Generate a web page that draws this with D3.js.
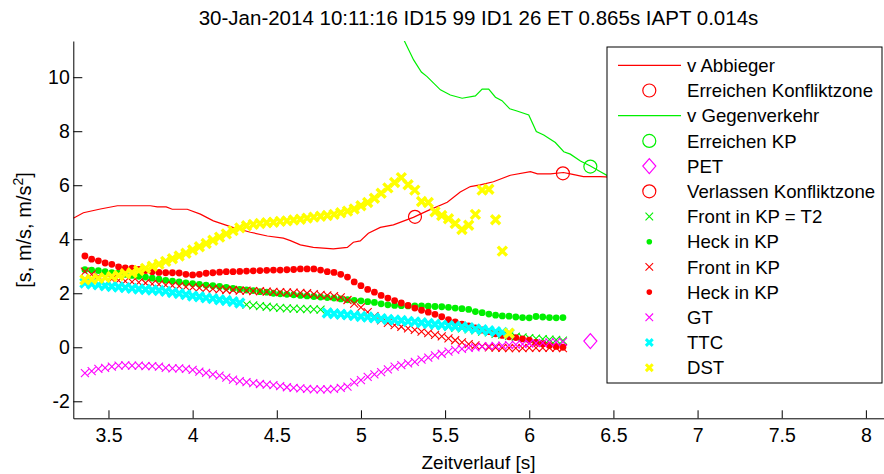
<!DOCTYPE html>
<html><head><meta charset="utf-8">
<script src="https://cdn.jsdelivr.net/npm/d3@7"></script>
<style>
body{margin:0;background:#fff;}
svg{display:block;}
text{font-family:"Liberation Sans",Arial,Helvetica,sans-serif;fill:#000;}
</style>
</head><body>
<svg id="c" width="884" height="474"></svg>
<script>
// ---------- data ----------
const title = "30-Jan-2014 10:11:16 ID15 99 ID1 26 ET 0.865s IAPT 0.014s";
const xLabel = "Zeitverlauf [s]";
const xTicks = [3.5, 4, 4.5, 5, 5.5, 6, 6.5, 7, 7.5, 8];
const yTicks = [-2, 0, 2, 4, 6, 8, 10];

// v Abbieger (red line)
const abbT = [3.291,3.351,3.452,3.553,3.749,3.790,3.843,3.879,3.968,4.046,4.123,4.242,4.343,4.444,4.539,4.581,4.640,4.717,4.836,4.919,4.955,4.996,5.044,5.115,5.193,5.311,5.394,5.513,5.590,5.650,5.709,5.787,5.888,6.007,6.049,6.126,6.203,6.244,6.322,6.423,6.480,6.600];
const abbV = [4.78,4.98,5.12,5.24,5.24,5.20,5.20,5.11,5.11,4.93,4.68,4.43,4.26,4.12,4.04,3.95,3.79,3.70,3.64,3.70,3.89,3.94,4.22,4.44,4.53,4.81,5.05,5.37,5.75,5.95,6.01,6.13,6.37,6.50,6.42,6.42,6.47,6.42,6.32,6.32,6.30,6.28];

// v Gegenverkehr (green line)
const gegT = [5.230,5.313,5.359,5.393,5.472,5.531,5.601,5.680,5.720,5.759,5.799,5.838,5.884,5.927,5.997,6.042,6.086,6.155,6.205,6.244,6.304,6.363,6.423,6.480,6.600];
const gegV = [11.70,10.64,10.19,10.02,9.53,9.34,9.22,9.31,9.56,9.56,9.26,9.13,8.83,8.75,8.60,7.99,7.86,7.58,7.24,7.15,6.90,6.71,6.50,6.30,6.00];

// single events
const erreichenKZ = [5.321, 4.83];
const erreichenKP = [6.363, 6.69];
const pet = [6.363, 0.23];
const verlassenKZ = [6.200, 6.44];

// sample times of marker series
const t = [3.36,3.40,3.44,3.48,3.52,3.56,3.60,3.64,3.68,3.72,3.76,3.80,3.84,3.88,3.92,3.96,4.00,4.04,4.08,4.12,4.16,4.20,4.24,4.28,4.32,4.36,4.40,4.44,4.48,4.52,4.56,4.60,4.64,4.68,4.72,4.76,4.80,4.84,4.88,4.92,4.96,5.00,5.04,5.08,5.12,5.16,5.20,5.24,5.28,5.32,5.36,5.40,5.44,5.48,5.52,5.56,5.60,5.64,5.68,5.72,5.76,5.80,5.84,5.88,5.92,5.96,6.00,6.04,6.08,6.12,6.16,6.20];

const frontT2 = [2.38,2.34,2.31,2.28,2.25,2.23,2.21,2.18,2.16,2.14,2.12,2.10,2.07,2.03,1.99,1.95,1.90,1.87,1.83,1.80,1.76,1.73,1.69,1.64,
  1.58,1.55,1.52,1.50,1.48,1.46,1.44,1.43,1.42,1.41,1.40,1.39,
  1.31,1.27,1.24,1.20,1.18,1.15,1.11,1.09,1.05,1.03,0.99,0.97,0.93,0.91,0.88,0.85,0.81,0.79,0.76,0.72,0.70,0.66,0.63,0.58,0.55,0.50,0.47,0.42,
  0.39,0.37,0.34,0.32,0.30,0.28,0.27,0.25];
const heckGreen = [2.87,2.86,2.84,2.80,2.76,2.74,2.70,2.66,2.63,2.60,2.56,2.52,2.48,2.45,2.42,2.38,2.36,2.33,2.30,2.28,2.25,2.22,2.18,2.14,2.12,2.10,2.06,2.04,2.00,1.98,1.96,1.94,1.92,1.90,1.88,1.86,1.84,1.82,1.79,1.76,1.74,1.72,1.69,1.66,1.61,1.57,1.55,1.54,1.53,1.53,1.53,1.52,1.51,1.50,1.48,1.45,1.43,1.40,1.32,1.28,1.23,1.19,1.16,1.15,1.12,1.10,1.09,1.14,1.12,1.10,1.09,1.10];
const frontRed = [2.80,2.70,2.62,2.56,2.52,2.48,2.45,2.42,2.40,2.38,2.35,2.33,2.30,2.28,2.26,2.24,2.22,2.20,2.18,2.16,2.14,2.12,2.12,2.10,2.10,2.08,2.08,2.06,2.05,2.04,2.03,2.02,2.01,2.00,1.97,1.94,1.92,1.89,1.85,1.75,1.62,1.48,1.30,1.15,1.00,0.90,0.82,0.76,0.70,0.64,0.58,0.52,0.46,0.40,0.33,0.26,0.18,0.12,0.07,0.03,0.00,-0.01,-0.02,-0.03,-0.03,-0.03,-0.02,-0.02,-0.02,-0.02,-0.02,-0.03];
const heckRed = [3.38,3.26,3.20,3.12,3.07,2.98,2.94,2.93,2.88,2.84,2.80,2.77,2.76,2.76,2.75,2.70,2.68,2.70,2.74,2.76,2.78,2.80,2.80,2.81,2.82,2.83,2.84,2.85,2.86,2.86,2.87,2.88,2.90,2.90,2.90,2.86,2.80,2.77,2.70,2.60,2.42,2.28,2.14,2.04,1.92,1.82,1.73,1.64,1.55,1.45,1.37,1.30,1.22,1.13,1.02,0.94,0.86,0.79,0.72,0.64,0.58,0.50,0.44,0.39,0.36,0.31,0.26,0.18,0.13,0.07,0.03,0.00];
const gt = [-0.96,-0.88,-0.80,-0.76,-0.72,-0.68,-0.67,-0.68,-0.68,-0.70,-0.70,-0.72,-0.76,-0.78,-0.78,-0.80,-0.84,-0.90,-0.95,-1.00,-1.05,-1.12,-1.20,-1.25,-1.29,-1.33,-1.36,-1.38,-1.40,-1.44,-1.48,-1.50,-1.52,-1.54,-1.56,-1.56,-1.56,-1.54,-1.50,-1.46,-1.30,-1.22,-1.10,-1.00,-0.92,-0.82,-0.72,-0.66,-0.60,-0.54,-0.46,-0.38,-0.30,-0.24,-0.16,-0.10,-0.06,-0.02,0.00,0.02,0.04,0.05,0.06,0.08,0.10,0.12,0.14,0.15,0.16,0.18,0.19,0.20];
const ttc = [2.38,2.34,2.31,2.28,2.25,2.23,2.21,2.18,2.16,2.14,2.12,2.10,2.07,2.03,1.99,1.95,1.90,1.87,1.83,1.80,1.76,1.73,1.69,1.64,
  null,null,null,null,null,null,null,null,null,null,null,null,
  1.27,1.24,1.22,1.20,1.17,1.14,1.12,1.09,1.06,1.03,1.01,0.99,0.96,0.94,0.91,0.88,0.85,0.82,0.80,0.78,0.76,0.72,0.68,0.65,0.61,0.58,0.55,0.51,
  null,null,null,null,null,null,null,null];
const dst = [2.50,2.52,2.55,2.58,2.62,2.66,2.72,2.76,2.84,2.92,3.00,3.08,3.18,3.28,3.38,3.48,3.60,3.72,3.84,3.96,4.08,4.20,4.32,4.42,4.50,4.55,4.58,4.61,4.63,4.66,4.68,4.71,4.74,4.78,4.82,4.85,4.88,4.92,4.98,5.04,5.12,5.24,5.36,5.52,5.70,5.90,6.10,6.28,6.02,5.82,5.40,5.36,5.02,4.88,4.76,4.58,4.36,4.52,4.92,5.82,5.85,4.72,3.56,0.52,
  null,null,null,null,null,null,null,null];

const legendLabels = ["v Abbieger","Erreichen Konfliktzone","v Gegenverkehr","Erreichen KP","PET","Verlassen Konfliktzone","Front in KP = T2","Heck in KP","Front in KP","Heck in KP","GT","TTC","DST"];

// ---------- styles ----------
const RED = "#ff0000", GREEN = "#00f000", MAG = "#ff00ff", CYAN = "#00ffff", YEL = "#ffff00";

// ---------- drawing ----------
const svg = d3.select("#c");
const x = d3.scaleLinear().domain([3.291, 8.11]).range([73.3, 884.4]);
const y = d3.scaleLinear().domain([-2.63, 11.34]).range([418.3, 41]);

svg.append("defs").append("clipPath").attr("id", "clip")
  .append("rect").attr("x", 73.3).attr("y", 41).attr("width", 812).attr("height", 378);

const plot = svg.append("g").attr("clip-path", "url(#clip)");

const line = d3.line().x(d => x(d[0])).y(d => y(d[1]));
const zip = (a, b) => a.map((v, i) => [v, b[i]]).filter(d => d[1] !== null && d[1] !== undefined);

const xPath = h => `M${-h},${-h}L${h},${h}M${-h},${h}L${h},${-h}`;
const diamondPath = (w, hh) => `M0,${-hh}L${w},0L0,${hh}L${-w},0Z`;

function drawX(g, data, color, h, sw) {
  g.append("g").selectAll("path").data(data).join("path")
    .attr("transform", d => `translate(${x(d[0])},${y(d[1])})`)
    .attr("d", xPath(h)).attr("fill", "none").attr("stroke", color).attr("stroke-width", sw);
}
function drawDots(g, data, color, r) {
  g.append("g").selectAll("circle").data(data).join("circle")
    .attr("cx", d => x(d[0])).attr("cy", d => y(d[1])).attr("r", r).attr("fill", color);
}
function drawCircle(g, p, color) {
  g.append("circle").attr("cx", x(p[0])).attr("cy", y(p[1])).attr("r", 6.5)
    .attr("fill", "none").attr("stroke", color).attr("stroke-width", 1.2);
}

plot.append("path").datum(zip(abbT, abbV)).attr("d", line).attr("fill", "none").attr("stroke", RED).attr("stroke-width", 1.2);
drawCircle(plot, erreichenKZ, RED);
plot.append("path").datum(zip(gegT, gegV)).attr("d", line).attr("fill", "none").attr("stroke", GREEN).attr("stroke-width", 1.2);
drawCircle(plot, erreichenKP, GREEN);
plot.append("path").attr("transform", `translate(${x(pet[0])},${y(pet[1])})`)
  .attr("d", diamondPath(6.5, 7.5)).attr("fill", "none").attr("stroke", MAG).attr("stroke-width", 1.2);
drawCircle(plot, verlassenKZ, RED);
drawX(plot, zip(t, frontT2), GREEN, 4, 1.1);
drawDots(plot, zip(t, heckGreen), GREEN, 3.4);
drawX(plot, zip(t, frontRed), RED, 4, 1.1);
drawDots(plot, zip(t, heckRed), RED, 3.4);
drawX(plot, zip(t, gt), MAG, 4, 1.1);
drawX(plot, zip(t, ttc), CYAN, 4.5, 3.4);
drawX(plot, zip(t, dst), YEL, 4.5, 3.4);

// axes
const xAxis = d3.axisBottom(x).tickValues(xTicks).tickFormat(d => String(d)).tickSizeInner(-8).tickSizeOuter(0).tickPadding(10);
const gx = svg.append("g").attr("transform", "translate(0,418.3)").call(xAxis);
const yAxis = d3.axisLeft(y).tickValues(yTicks).tickFormat(d => String(d)).tickSizeInner(-9).tickSizeOuter(0).tickPadding(3.5);
const gy = svg.append("g").attr("transform", "translate(73.3,0)").call(yAxis);
[gx, gy].forEach(g => {
  g.selectAll("path.domain").attr("stroke", "#000").attr("stroke-width", 1);
  g.selectAll(".tick line").attr("stroke", "#000").attr("stroke-width", 1);
  g.selectAll(".tick text").attr("font-size", 19.5).attr("font-family", '"Liberation Sans",Arial,sans-serif').attr("fill", "#000");
});

// title & labels
svg.append("text").attr("x", 478.5).attr("y", 25).attr("text-anchor", "middle").attr("font-size", 20.5).text(title);
svg.append("text").attr("x", 478.5).attr("y", 469).attr("text-anchor", "middle").attr("font-size", 19).text(xLabel);
const yl = svg.append("text").attr("transform", "translate(31,230) rotate(-90)").attr("text-anchor", "middle").attr("font-size", 20);
yl.append("tspan").text("[s, m/s, m/s");
yl.append("tspan").attr("dy", -8).attr("font-size", 14).text("2");
yl.append("tspan").attr("dy", 8).text("]");

// legend
const lg = svg.append("g");
lg.append("rect").attr("x", 607).attr("y", 47).attr("width", 275).attr("height", 336)
  .attr("fill", "#fff").attr("stroke", "#000").attr("stroke-width", 1);
const rowY = i => 65.3 + i * 25.2;
const mx = 649.3;
legendLabels.forEach((lab, i) => {
  lg.append("text").attr("x", 687).attr("y", rowY(i) + 6.6).attr("font-size", 18.6).text(lab);
});
function legLine(i, c) { lg.append("line").attr("x1", 618).attr("x2", 681).attr("y1", rowY(i)).attr("y2", rowY(i)).attr("stroke", c).attr("stroke-width", 1.2); }
function legCircle(i, c) { lg.append("circle").attr("cx", mx).attr("cy", rowY(i)).attr("r", 6.5).attr("fill", "none").attr("stroke", c).attr("stroke-width", 1.2); }
function legX(i, c, h, sw) { lg.append("path").attr("transform", `translate(${mx},${rowY(i)})`).attr("d", xPath(h)).attr("fill", "none").attr("stroke", c).attr("stroke-width", sw); }
function legDot(i, c) { lg.append("circle").attr("cx", mx).attr("cy", rowY(i)).attr("r", 2.8).attr("fill", c); }
legLine(0, RED);
legCircle(1, RED);
legLine(2, GREEN);
legCircle(3, GREEN);
lg.append("path").attr("transform", `translate(${mx},${rowY(4)})`).attr("d", diamondPath(6.5, 7.5)).attr("fill", "none").attr("stroke", MAG).attr("stroke-width", 1.2);
legCircle(5, RED);
legX(6, GREEN, 3.8, 1.1);
legDot(7, GREEN);
legX(8, RED, 3.8, 1.1);
legDot(9, RED);
legX(10, MAG, 3.8, 1.1);
legX(11, CYAN, 3.4, 3);
legX(12, YEL, 3.4, 3);
</script>
</body></html>
